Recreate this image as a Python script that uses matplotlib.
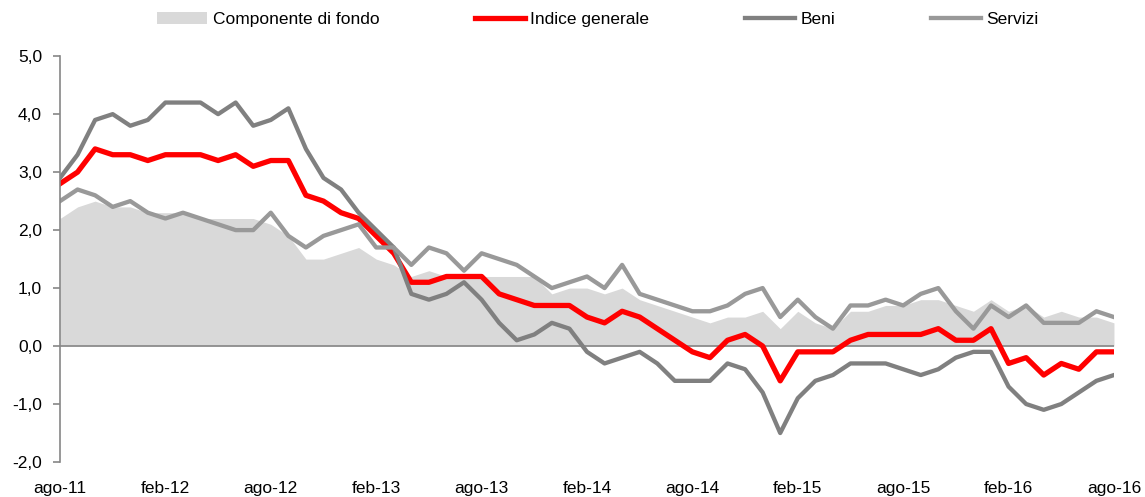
import matplotlib
matplotlib.use("Agg")
from matplotlib import pyplot as plt
from matplotlib.ticker import FuncFormatter

plt.rcParams['font.family'] = ['Liberation Sans', 'DejaVu Sans']

# monthly data, ago-11 .. ago-16
mesi_it = ['gen', 'feb', 'mar', 'apr', 'mag', 'giu', 'lug', 'ago', 'set', 'ott', 'nov', 'dic']
months = []
for k in range(61):
    m = (7 + k) % 12
    y = 11 + (7 + k) // 12
    months.append(f"{mesi_it[m]}-{y}")

componente_fondo = [2.2, 2.4, 2.5, 2.4, 2.4, 2.3, 2.3, 2.3, 2.2, 2.2,
                    2.2, 2.2, 2.1, 1.9, 1.5, 1.5, 1.6, 1.7, 1.5, 1.4,
                    1.2, 1.3, 1.2, 1.2, 1.2, 1.2, 1.2, 1.2, 0.9, 1.0,
                    1.0, 0.9, 1.0, 0.8, 0.7, 0.6, 0.5, 0.4, 0.5, 0.5,
                    0.6, 0.3, 0.6, 0.4, 0.3, 0.6, 0.6, 0.7, 0.7, 0.8,
                    0.8, 0.7, 0.6, 0.8, 0.6, 0.7, 0.5, 0.6, 0.5, 0.5, 0.4]
indice_generale = [2.8, 3.0, 3.4, 3.3, 3.3, 3.2, 3.3, 3.3, 3.3, 3.2,
                   3.3, 3.1, 3.2, 3.2, 2.6, 2.5, 2.3, 2.2, 1.9, 1.6,
                   1.1, 1.1, 1.2, 1.2, 1.2, 0.9, 0.8, 0.7, 0.7, 0.7,
                   0.5, 0.4, 0.6, 0.5, 0.3, 0.1, -0.1, -0.2, 0.1, 0.2,
                   0.0, -0.6, -0.1, -0.1, -0.1, 0.1, 0.2, 0.2, 0.2, 0.2,
                   0.3, 0.1, 0.1, 0.3, -0.3, -0.2, -0.5, -0.3, -0.4, -0.1, -0.1]
beni = [2.9, 3.3, 3.9, 4.0, 3.8, 3.9, 4.2, 4.2, 4.2, 4.0,
        4.2, 3.8, 3.9, 4.1, 3.4, 2.9, 2.7, 2.3, 2.0, 1.7,
        0.9, 0.8, 0.9, 1.1, 0.8, 0.4, 0.1, 0.2, 0.4, 0.3,
        -0.1, -0.3, -0.2, -0.1, -0.3, -0.6, -0.6, -0.6, -0.3, -0.4,
        -0.8, -1.5, -0.9, -0.6, -0.5, -0.3, -0.3, -0.3, -0.4, -0.5,
        -0.4, -0.2, -0.1, -0.1, -0.7, -1.0, -1.1, -1.0, -0.8, -0.6, -0.5]
servizi = [2.5, 2.7, 2.6, 2.4, 2.5, 2.3, 2.2, 2.3, 2.2, 2.1,
           2.0, 2.0, 2.3, 1.9, 1.7, 1.9, 2.0, 2.1, 1.7, 1.7,
           1.4, 1.7, 1.6, 1.3, 1.6, 1.5, 1.4, 1.2, 1.0, 1.1,
           1.2, 1.0, 1.4, 0.9, 0.8, 0.7, 0.6, 0.6, 0.7, 0.9,
           1.0, 0.5, 0.8, 0.5, 0.3, 0.7, 0.7, 0.8, 0.7, 0.9,
           1.0, 0.6, 0.3, 0.7, 0.5, 0.7, 0.4, 0.4, 0.4, 0.6, 0.5]

x = list(range(len(months)))

fig = plt.figure(figsize=(11.45, 4.97), dpi=100)
ax = fig.add_axes([0.0524, 0.0704, 0.9205, 0.8166])

area = ax.fill_between(x, 0, componente_fondo, color='#d9d9d9', linewidth=0,
                       label='Componente di fondo')
ax.axhline(0, color='#868686', linewidth=1.2)
l1, = ax.plot(x, indice_generale, color='#ff0000', linewidth=3.8, label='Indice generale')
l2, = ax.plot(x, beni, color='#808080', linewidth=3.1, label='Beni')
l3, = ax.plot(x, servizi, color='#999999', linewidth=3.1, label='Servizi')

ax.set_xlim(0, 60)
ax.set_ylim(-2, 5)
ax.set_yticks([-2, -1, 0, 1, 2, 3, 4, 5])
ax.yaxis.set_major_formatter(FuncFormatter(lambda v, p: f"{v:.1f}".replace('.', ',')))
ax.set_xticks(x[::6])
ax.set_xticklabels(months[::6])

for s in ['top', 'right', 'bottom']:
    ax.spines[s].set_visible(False)
ax.spines['left'].set_color('#868686')
ax.spines['left'].set_linewidth(1.2)
ax.tick_params(axis='y', direction='out', length=5, width=1.2, color='#868686',
               labelsize=12.5, pad=8)
ax.tick_params(axis='x', length=0, labelsize=12.5, pad=14)

fig.legend(handles=[area, l1, l2, l3], loc='center', bbox_to_anchor=(0.522, 0.96),
           ncol=4, frameon=False, fontsize=12.5, handlelength=2.9,
           handletextpad=0.3, columnspacing=5.5)

fig.savefig('out.png', dpi=100)
